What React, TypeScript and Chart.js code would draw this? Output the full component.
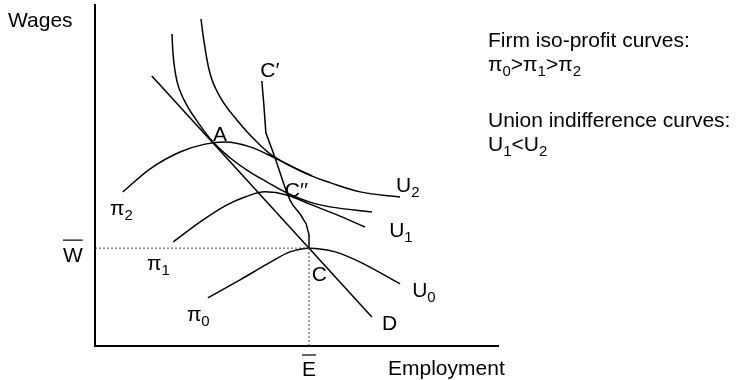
import React, { useEffect, useRef } from "react";
import { Chart, registerables } from "chart.js";

Chart.register(...registerables);

// Axis ranges (conceptual units)
const X_MAX = 10;
const Y_MAX = 10;

// Reference levels
const W_BAR = 2.87;
const E_BAR = 5.31;

// Labour demand line D
const demandLine: [number, number][] = [
  [1.41, 7.92],
  [6.87, 0.85],
];

// Union indifference curves
const u2Curve: [number, number][] = [
  [2.63, 9.59], [2.71, 8.89], [2.88, 7.89], [3.15, 7.21], [3.52, 6.63],
  [3.97, 6.04], [4.47, 5.53], [5.33, 5.01], [5.83, 4.79], [6.58, 4.52], [7.57, 4.37],
];
const u1Curve: [number, number][] = [
  [1.91, 9.15], [1.95, 8.39], [2.06, 7.65], [2.26, 7.1], [2.53, 6.6],
  [2.93, 5.98], [3.35, 5.52], [3.77, 5.16], [4.22, 4.84], [4.76, 4.49],
  [5.33, 4.22], [5.83, 4.08], [6.87, 3.93],
];

// Firm iso-profit curves
const pi2Curve: [number, number][] = [
  [0.69, 4.52], [1.36, 5.19], [2.11, 5.69], [2.73, 5.92], [3.23, 5.98],
  [3.85, 5.84], [4.47, 5.51], [4.96, 5.22], [5.38, 4.99],
];
const pi1Curve: [number, number][] = [
  [1.94, 3.05], [2.61, 3.64], [3.23, 4.11], [3.72, 4.37], [4.22, 4.52],
  [4.76, 4.43], [5.33, 4.16], [6.08, 3.81], [6.7, 3.49],
];
const pi0Curve: [number, number][] = [
  [2.8, 1.41], [3.6, 1.94], [4.27, 2.4], [4.84, 2.76], [5.31, 2.87],
  [5.96, 2.76], [6.58, 2.46], [7.57, 1.82],
];

// Contract curve C' - C
const contractCurve: [number, number][] = [
  [4.14, 7.77], [4.19, 7.07], [4.24, 6.25], [4.47, 5.51], [4.76, 4.49],
  [4.84, 4.28], [4.91, 4.13], [5.09, 3.87], [5.24, 3.58], [5.31, 3.26], [5.31, 2.87],
];

// In-plot labels: [x, y, main text, subscript]
const plotLabels: [number, number, string, string][] = [
  [2.93, 6.02, "A", ""],
  [4.1, 7.9, "C\u2032", ""],
  [4.71, 4.37, "C\u2032\u2032", ""],
  [5.38, 1.91, "C", ""],
  [7.12, 0.47, "D", ""],
  [7.87, 1.44, "U", "0"],
  [7.3, 3.2, "U", "1"],
  [7.47, 4.52, "U", "2"],
  [0.37, 3.84, "\u03c0", "2"],
  [1.29, 2.23, "\u03c0", "1"],
  [2.28, 0.73, "\u03c0", "0"],
];

const AXIS_X_TITLE = "Employment";
const AXIS_Y_TITLE = "Wages";
const NOTE_FIRM = "Firm iso-profit curves:";
const NOTE_FIRM_ORDER: [string, boolean][] = [
  ["\u03c0", false], ["0", true], [">", false], ["\u03c0", false], ["1", true], [">", false], ["\u03c0", false], ["2", true],
];
const NOTE_UNION = "Union indifference curves:";
const NOTE_UNION_ORDER: [string, boolean][] = [
  ["U", false], ["1", true], ["<", false], ["U", false], ["2", true],
];

const FONT = '"Liberation Sans", Arial, Helvetica, sans-serif';
const MAIN = `21px ${FONT}`;
const SUB = `15px ${FONT}`;

function drawRich(ctx: CanvasRenderingContext2D, x: number, y: number, parts: [string, boolean][]) {
  let cx = x;
  for (const [t, sub] of parts) {
    ctx.font = sub ? SUB : MAIN;
    ctx.fillText(t, cx, sub ? y + 5 : y);
    cx += ctx.measureText(t).width;
  }
}

const toXY = (pts: [number, number][]) => pts.map(([x, y]) => ({ x, y }));

export default function App() {
  const ref = useRef<HTMLCanvasElement | null>(null);

  useEffect(() => {
    if (!ref.current) return;
    const curve = (pts: [number, number][], mode: "mono" | "spline" | "straight") => ({
      data: toXY(pts),
      showLine: true,
      borderColor: "#000",
      borderWidth: 1.5,
      pointRadius: 0,
      cubicInterpolationMode: mode === "mono" ? ("monotone" as const) : ("default" as const),
      tension: mode === "straight" ? 0 : 0.4,
      fill: false,
    });
    const dashed = (pts: [number, number][]) => ({
      data: toXY(pts),
      showLine: true,
      borderColor: "#444",
      borderWidth: 1,
      borderDash: [2, 2],
      pointRadius: 0,
      tension: 0,
      fill: false,
    });

    const labelsPlugin = {
      id: "labels",
      afterDraw(chart: any) {
        const ctx: CanvasRenderingContext2D = chart.ctx;
        const xs = chart.scales.x;
        const ys = chart.scales.y;
        ctx.save();
        ctx.fillStyle = "#000";
        ctx.strokeStyle = "#000";
        ctx.textBaseline = "alphabetic";
        ctx.textAlign = "left";
        for (const [x, y, main, sub] of plotLabels) {
          const parts: [string, boolean][] = [[main, false]];
          if (sub) parts.push([sub, true]);
          drawRich(ctx, xs.getPixelForValue(x), ys.getPixelForValue(y), parts);
        }
        // axis titles
        ctx.font = MAIN;
        ctx.fillText(AXIS_Y_TITLE, 8, 27);
        ctx.fillText(AXIS_X_TITLE, 388, 375);
        // W bar
        const wy = ys.getPixelForValue(W_BAR);
        const wx = xs.left - 32;
        ctx.font = MAIN;
        ctx.fillText("W", wx, wy + 14);
        const ww = ctx.measureText("W").width;
        ctx.lineWidth = 1.2;
        ctx.beginPath();
        ctx.moveTo(wx, wy - 8);
        ctx.lineTo(wx + ww, wy - 8);
        ctx.stroke();
        // E bar
        const ex = xs.getPixelForValue(E_BAR);
        const ew = ctx.measureText("E").width;
        ctx.fillText("E", ex - ew / 2, 376);
        ctx.beginPath();
        ctx.moveTo(ex - ew / 2, 355);
        ctx.lineTo(ex + ew / 2, 355);
        ctx.stroke();
        // notes
        ctx.font = MAIN;
        ctx.fillText(NOTE_FIRM, 488, 47);
        drawRich(ctx, 488, 71, NOTE_FIRM_ORDER);
        ctx.font = MAIN;
        ctx.fillText(NOTE_UNION, 488, 127);
        drawRich(ctx, 488, 151, NOTE_UNION_ORDER);
        ctx.restore();
      },
    };

    const chart = new Chart(ref.current, {
      type: "scatter",
      data: {
        datasets: [
          dashed([[0, W_BAR], [E_BAR, W_BAR]]),
          dashed([[E_BAR, 0], [E_BAR, W_BAR]]),
          curve(demandLine, "straight"),
          curve(u2Curve, "spline"),
          curve(u1Curve, "spline"),
          curve(pi2Curve, "mono"),
          curve(pi1Curve, "mono"),
          curve(pi0Curve, "mono"),
          curve(contractCurve, "straight"),
        ] as any,
      },
      options: {
        animation: false,
        responsive: false,
        layout: { padding: { left: 95, right: 240, top: 5, bottom: 34 } },
        plugins: { legend: { display: false }, tooltip: { enabled: false } },
        scales: {
          x: {
            type: "linear",
            min: 0,
            max: X_MAX,
            grid: { display: false, drawTicks: false },
            ticks: { display: false },
            border: { display: true, color: "#000", width: 2 },
          },
          y: {
            type: "linear",
            min: 0,
            max: Y_MAX,
            grid: { display: false, drawTicks: false },
            ticks: { display: false },
            border: { display: true, color: "#000", width: 2 },
          },
        },
      },
      plugins: [labelsPlugin],
    });
    return () => chart.destroy();
  }, []);

  return (
    <div style={{ position: "fixed", left: 0, top: 0, width: 738, height: 380, background: "#fff" }}>
      <canvas ref={ref} width={738} height={380} />
    </div>
  );
}
